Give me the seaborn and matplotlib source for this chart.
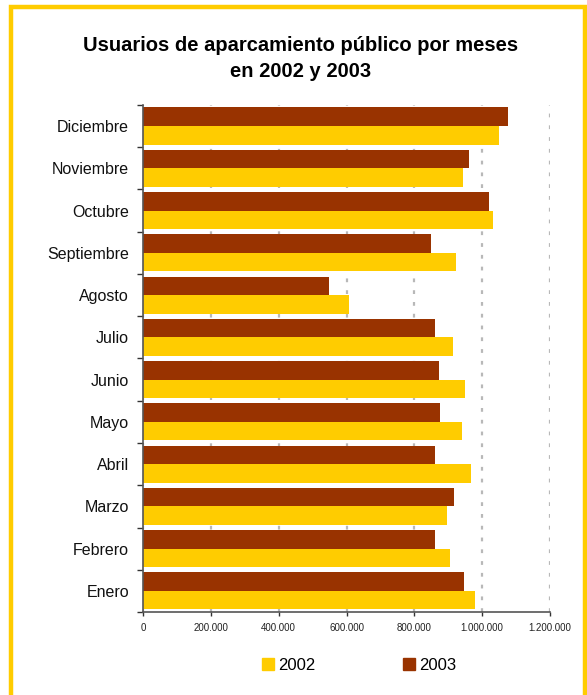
import pandas as pd
import numpy as np
import matplotlib
matplotlib.use("Agg")
import matplotlib.pyplot as plt
import matplotlib.patches as mpatches
from matplotlib.ticker import FuncFormatter, FixedLocator
import seaborn as sns

# data
months = ["Diciembre", "Noviembre", "Octubre", "Septiembre", "Agosto", "Julio",
          "Junio", "Mayo", "Abril", "Marzo", "Febrero", "Enero"]
users_2002 = [1050000, 944000, 1032000, 924000, 606000, 915000,
              950000, 941000, 968000, 897000, 906000, 979000]
users_2003 = [1076000, 962000, 1021000, 850000, 547000, 862000,
              874000, 877000, 862000, 918000, 862000, 947000]
years = ["2002", "2003"]
colors = {"2002": "#FFCC00", "2003": "#993300"}
x_ticks = [0, 200000, 400000, 600000, 800000, 1000000, 1200000]

df = pd.DataFrame({
    "mes": months * 2,
    "usuarios": users_2002 + users_2003,
    "año": ["2002"] * len(months) + ["2003"] * len(months),
})

sns.set_style("white")
plt.rcParams["font.family"] = ["Liberation Sans", "DejaVu Sans"]
plt.rcParams["text.color"] = "black"

fig = plt.figure(figsize=(5.87, 6.95), dpi=100)
ax = fig.add_axes([0.2436, 0.1194, 0.6934, 0.7296])

sns.barplot(data=df, x="usuarios", y="mes", hue="año", order=months,
            hue_order=["2003", "2002"], palette=colors, orient="h",
            width=0.88, saturation=1, linewidth=0, ax=ax, legend=False)

ax.set_xlim(0, 1200000)
ax.set_ylim(len(months) - 0.5, -0.5)
ax.set_xlabel("")
ax.set_ylabel("")

# x axis
ax.xaxis.set_major_locator(FixedLocator(x_ticks))
ax.xaxis.set_major_formatter(FuncFormatter(lambda v, p: f"{int(v):,}".replace(",", ".")))
ax.tick_params(axis="x", labelsize=7, length=3, width=1, color="#333333",
               pad=5, direction="out", bottom=True, labelcolor="#222222")
ax.grid(axis="x", color="#b8b8b8", linestyle=(0, (1.7, 3.6)), linewidth=1.6)
ax.grid(axis="y", visible=False)
ax.set_axisbelow(True)

# y axis: ticks at category boundaries, labels at centres
ax.yaxis.set_major_locator(FixedLocator(np.arange(-0.5, len(months), 1)))
ax.yaxis.set_major_formatter(FuncFormatter(lambda v, p: ""))
ax.yaxis.set_minor_locator(FixedLocator(np.arange(len(months))))
ax.set_yticklabels(months, minor=True)
ax.tick_params(axis="y", which="major", length=4, width=1, color="#333333",
               direction="out", left=True)
ax.tick_params(axis="y", which="minor", length=0, labelsize=11.5, pad=10,
               labelcolor="#111111", left=True)

for side in ["top", "right"]:
    ax.spines[side].set_visible(False)
for side in ["left", "bottom"]:
    ax.spines[side].set_color("#555555")
    ax.spines[side].set_linewidth(1.2)

fig.text(0.512, 0.916, "Usuarios de aparcamiento público por meses\nen 2002 y 2003",
         ha="center", va="center", fontsize=14.5, fontweight="bold",
         linespacing=1.45, color="black")

handles = [mpatches.Patch(color=colors[y], label=y) for y in years]
fig.legend(handles=handles, loc="center", bbox_to_anchor=(0.612, 0.043),
           ncol=2, frameon=False, fontsize=12, handlelength=0.7,
           handleheight=0.7, handletextpad=0.25, columnspacing=5.3)

# yellow frame
fig.patches.append(mpatches.Rectangle((11 / 587, -0.05), 574 / 587, 1.05 - 7.5 / 695,
                                      transform=fig.transFigure, fill=False,
                                      edgecolor="#FFCC00", linewidth=3.2))

fig.savefig("out.png", dpi=100)
